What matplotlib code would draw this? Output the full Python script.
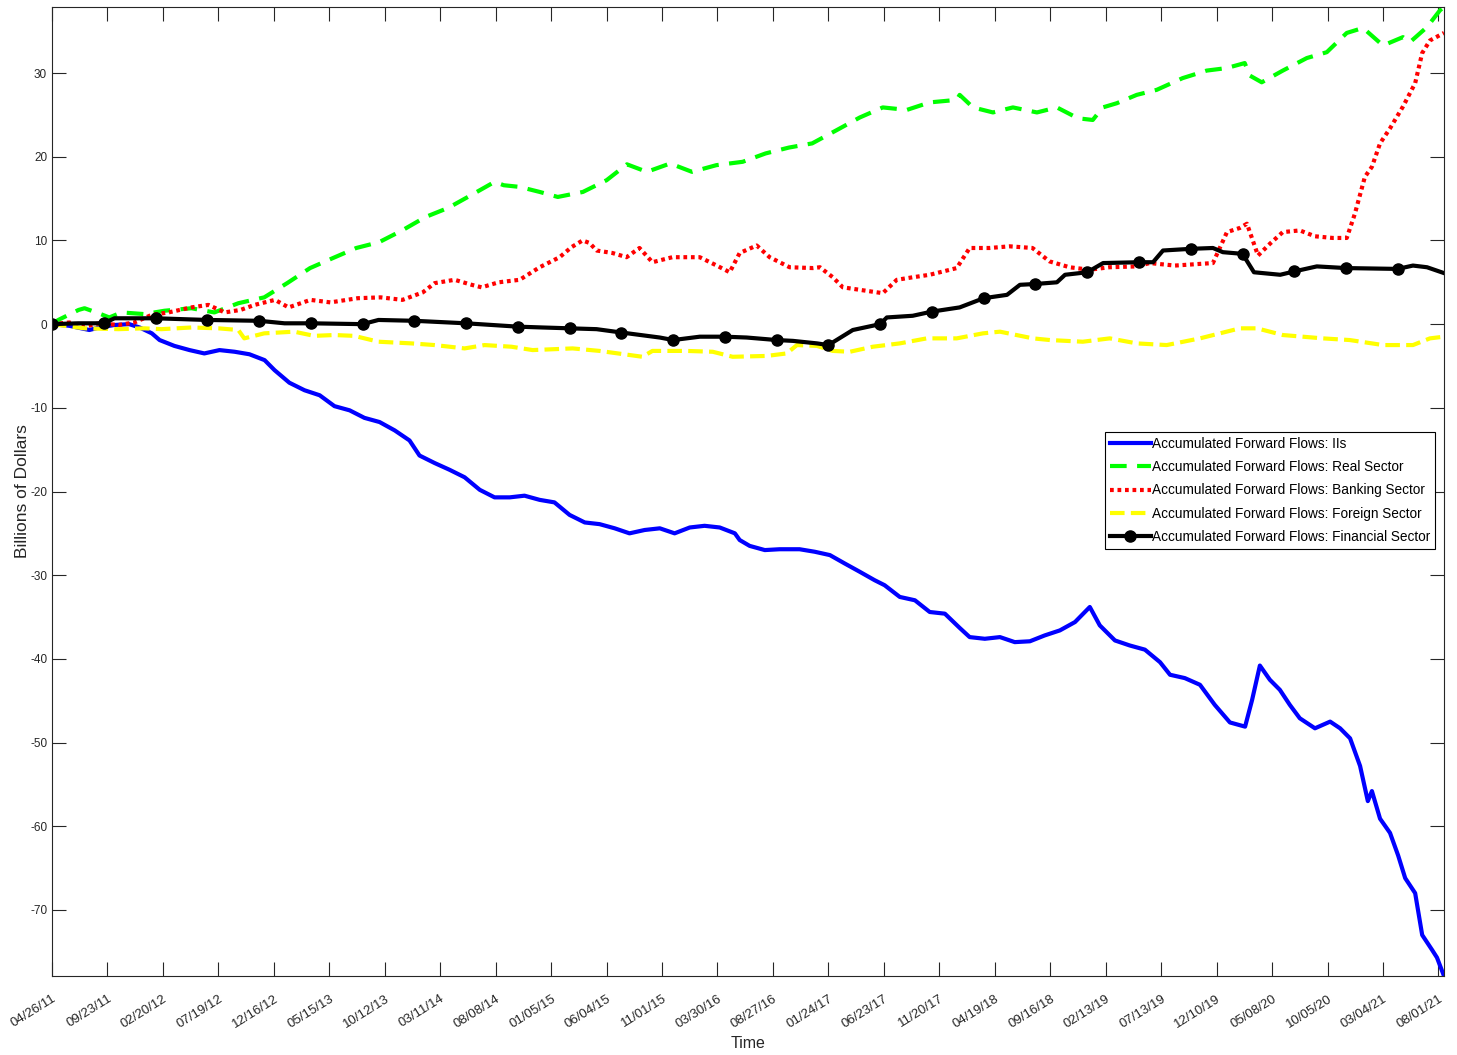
import numpy as np
import pandas as pd
import matplotlib
matplotlib.use("Agg")
import matplotlib.pyplot as plt

plt.rcParams['font.family'] = ['Liberation Sans', 'DejaVu Sans']
plt.rcParams['axes.unicode_minus'] = False

# start of the sample, every series is given as days after this date
start = "2011-04-26"

# x tick labels (every 150 days)
tick_labels = ["04/26/11", "09/23/11", "02/20/12", "07/19/12", "12/16/12", "05/15/13",
               "10/12/13", "03/11/14", "08/08/14", "01/05/15", "06/04/15", "11/01/15",
               "03/30/16", "08/27/16", "01/24/17", "06/23/17", "11/20/17", "04/19/18",
               "09/16/18", "02/13/19", "07/13/19", "12/10/19", "05/08/20", "10/05/20",
               "03/04/21", "08/01/21"]

# IIs (blue)
iis_days = [0, 47, 101, 128, 169, 209, 237, 270, 291, 331, 372, 412, 453, 494, 534, 575,
            602, 642, 683, 724, 764, 805, 845, 886, 927, 967, 994, 1035, 1075, 1116, 1157,
            1197, 1238, 1278, 1319, 1359, 1400, 1441, 1481, 1522, 1562, 1603, 1644, 1684,
            1725, 1765, 1806, 1847, 1860, 1887, 1928, 1968, 2022, 2063, 2104, 2144, 2185,
            2225, 2252, 2293, 2334, 2374, 2415, 2455, 2482, 2523, 2564, 2604, 2645, 2685,
            2726, 2767, 2807, 2834, 2875, 2915, 2956, 2997, 3024, 3064, 3105, 3145, 3186,
            3227, 3246, 3267, 3294, 3321, 3348, 3375, 3416, 3457, 3484, 3511, 3538, 3559,
            3570, 3592, 3619, 3641, 3660, 3687, 3706, 3733, 3746, 3765]
iis_vals = [0.0, -0.2, -0.7, -0.4, -0.1, 0.0, -0.4, -1.1, -1.9, -2.6, -3.1, -3.5, -3.1, -3.3,
            -3.6, -4.3, -5.5, -7.0, -7.9, -8.5, -9.8, -10.3, -11.2, -11.7, -12.7, -13.9,
            -15.7, -16.6, -17.4, -18.3, -19.8, -20.7, -20.7, -20.5, -21.0, -21.3, -22.8,
            -23.7, -23.9, -24.4, -25.0, -24.6, -24.4, -25.0, -24.3, -24.1, -24.3, -25.0,
            -25.8, -26.5, -27.0, -26.9, -26.9, -27.2, -27.6, -28.6, -29.6, -30.6, -31.2,
            -32.6, -33.0, -34.4, -34.6, -36.3, -37.4, -37.6, -37.4, -38.0, -37.9, -37.2,
            -36.6, -35.6, -33.8, -36.0, -37.8, -38.4, -38.9, -40.4, -41.9, -42.3, -43.1,
            -45.5, -47.6, -48.1, -44.9, -40.8, -42.5, -43.7, -45.5, -47.1, -48.3, -47.5,
            -48.3, -49.5, -52.8, -57.0, -55.8, -59.1, -60.8, -63.5, -66.2, -68.0, -73.0,
            -74.8, -75.7, -77.9]

# real sector (green)
real_days = [0, 17, 72, 88, 126, 155, 188, 250, 304, 377, 439, 504, 504, 574, 636, 698,
             760, 823, 885, 947, 1010, 1072, 1133, 1197, 1222, 1265, 1319, 1368, 1436,
             1500, 1555, 1609, 1672, 1731, 1797, 1868, 1930, 1993, 2056, 2123, 2185, 2247,
             2312, 2374, 2447, 2455, 2491, 2545, 2599, 2664, 2718, 2775, 2815, 2842, 2880,
             2934, 2988, 3058, 3123, 3177, 3226, 3240, 3272, 3329, 3394, 3448, 3502, 3546,
             3600, 3654, 3673, 3719, 3754, 3765]
real_vals = [0.0, 0.5, 1.7, 1.9, 1.3, 0.8, 1.4, 1.2, 1.6, 1.9, 1.4, 2.5, 2.5, 3.2, 4.9,
             6.7, 7.9, 9.1, 9.8, 11.2, 12.8, 13.9, 15.4, 17.0, 16.6, 16.4, 15.8, 15.2, 15.8,
             17.2, 19.1, 18.2, 19.2, 18.2, 19.0, 19.4, 20.4, 21.1, 21.6, 23.2, 24.7, 25.9,
             25.6, 26.5, 26.8, 27.4, 25.9, 25.3, 25.9, 25.3, 25.9, 24.6, 24.4, 25.9, 26.4,
             27.4, 28.0, 29.4, 30.3, 30.6, 31.2, 29.7, 28.9, 30.3, 31.8, 32.5, 34.8, 35.4,
             33.3, 34.3, 33.7, 35.5, 37.5, 37.9]

# banking sector (red)
bank_days = [0, 47, 88, 128, 180, 223, 269, 315, 377, 423, 467, 510, 548, 603, 640, 699,
             753, 827, 889, 948, 1003, 1035, 1089, 1135, 1162, 1208, 1265, 1319, 1373, 1405,
             1435, 1454, 1473, 1516, 1554, 1589, 1624, 1678, 1752, 1798, 1833, 1860, 1906,
             1941, 1995, 2058, 2077, 2112, 2139, 2185, 2247, 2285, 2328, 2374, 2447, 2482,
             2536, 2590, 2652, 2698, 2752, 2806, 2860, 2934, 2969, 3037, 3105, 3140, 3178,
             3213, 3232, 3262, 3294, 3329, 3375, 3416, 3464, 3502, 3524, 3551, 3570, 3592,
             3619, 3654, 3687, 3706, 3727, 3765]
bank_vals = [0.0, 0.2, -0.3, 0.1, -0.1, 0.2, 1.1, 1.4, 2.0, 2.3, 1.4, 1.7, 2.3, 2.9, 2.0,
             2.9, 2.6, 3.1, 3.2, 2.9, 3.8, 4.9, 5.3, 4.7, 4.4, 5.0, 5.3, 6.8, 8.0, 9.2, 10.0,
             9.7, 8.8, 8.5, 8.0, 9.1, 7.4, 8.0, 8.0, 7.0, 6.2, 8.5, 9.4, 8.0, 6.8, 6.7, 6.8,
             5.6, 4.4, 4.1, 3.7, 5.3, 5.6, 5.9, 6.7, 9.1, 9.1, 9.3, 9.1, 7.5, 6.8, 6.5, 6.8,
             6.9, 7.3, 7.0, 7.2, 7.3, 11.0, 11.5, 12.0, 8.2, 9.6, 11.0, 11.2, 10.5, 10.3,
             10.3, 13.2, 17.6, 18.8, 21.6, 23.4, 26.0, 28.8, 32.4, 33.9, 34.8]

# foreign sector (yellow)
foreign_days = [0, 88, 180, 250, 296, 377, 450, 504, 520, 574, 655, 709, 763, 817, 883,
                972, 1035, 1116, 1170, 1243, 1300, 1408, 1481, 1597, 1624, 1716, 1787, 1841,
                1933, 1987, 2015, 2069, 2112, 2158, 2220, 2293, 2366, 2447, 2518, 2564,
                2653, 2699, 2788, 2861, 2934, 3015, 3105, 3213, 3259, 3329, 3437, 3510,
                3600, 3681, 3727, 3765]
foreign_vals = [0.0, -0.5, -0.6, -0.5, -0.6, -0.4, -0.5, -0.7, -1.7, -1.1, -0.9, -1.4, -1.3,
                -1.4, -2.1, -2.3, -2.5, -2.9, -2.5, -2.7, -3.1, -2.9, -3.2, -3.9, -3.2,
                -3.2, -3.3, -3.9, -3.8, -3.5, -2.5, -2.6, -3.2, -3.3, -2.7, -2.3, -1.7,
                -1.7, -1.1, -0.9, -1.7, -1.9, -2.1, -1.7, -2.3, -2.5, -1.7, -0.5, -0.5,
                -1.3, -1.7, -1.9, -2.5, -2.5, -1.7, -1.5]

# financial sector (black), markers fall on the days that are multiples of 140
fin_days = [0, 71, 140, 169, 280, 420, 560, 629, 700, 840, 883, 980, 1120, 1260, 1327,
            1400, 1473, 1540, 1644, 1680, 1752, 1820, 1879, 1960, 2004, 2069, 2100, 2166,
            2240, 2258, 2328, 2380, 2455, 2520, 2583, 2618, 2660, 2718, 2740, 2800, 2843,
            2940, 2978, 3005, 3080, 3140, 3167, 3220, 3251, 3322, 3360, 3421, 3500, 3640,
            3681, 3719, 3765]
fin_vals = [0.0, 0.1, 0.1, 0.7, 0.7, 0.5, 0.4, 0.1, 0.1, 0.0, 0.5, 0.4, 0.1, -0.3, -0.4,
            -0.5, -0.6, -1.0, -1.6, -1.9, -1.5, -1.5, -1.6, -1.9, -2.0, -2.3, -2.5, -0.7,
            0.0, 0.8, 1.0, 1.5, 2.0, 3.1, 3.5, 4.7, 4.8, 5.0, 5.9, 6.2, 7.3, 7.4, 7.4, 8.8,
            9.0, 9.1, 8.6, 8.4, 6.2, 5.9, 6.3, 6.9, 6.7, 6.6, 7.0, 6.8, 6.1]

t0 = np.datetime64(start)


def to_dates(days):
    return t0 + np.array(days).astype('timedelta64[D]')


fig = plt.figure(figsize=(14.57, 10.55), dpi=100)
ax = fig.add_axes([52 / 1457, 79 / 1055, 1392 / 1457, 969 / 1055])

lw = 3.0
ax.plot(to_dates(iis_days), iis_vals, color=(0, 0, 1), lw=lw,
        label="Accumulated Forward Flows: IIs")
ax.plot(to_dates(real_days), real_vals, color=(0, 1, 0), lw=lw, dashes=(4, 2.5),
        label="Accumulated Forward Flows: Real Sector")
ax.plot(to_dates(bank_days), bank_vals, color=(1, 0, 0), lw=lw, dashes=(0.9, 0.9),
        label="Accumulated Forward Flows: Banking Sector")
ax.plot(to_dates(foreign_days), foreign_vals, color=(1, 1, 0), lw=lw, dashes=(3.5, 1.5),
        label="Accumulated Forward Flows: Foreign Sector")
marks = [i for i, d in enumerate(fin_days) if d % 140 == 0]
ax.plot(to_dates(fin_days), fin_vals, color='black', lw=lw, marker='o', markersize=8,
        markevery=marks, label="Accumulated Forward Flows: Financial Sector")

# axis limits tight to the data, like matlab
ax.set_xlim(to_dates([0])[0], to_dates([iis_days[-1]])[0])
ax.set_ylim(min(iis_vals), max(real_vals))

tick_pos = pd.to_datetime(tick_labels, format="%m/%d/%y").values
ax.set_xticks(tick_pos)
ax.set_xticklabels(tick_labels, rotation=32, ha='right', rotation_mode='anchor')
ax.set_yticks(np.arange(-70, 31, 10))

grey = (0.15, 0.15, 0.15)
ax.tick_params(direction='in', length=10, width=0.8, top=True, right=True,
               labelsize=8.5, colors=grey)
ax.tick_params(axis='x', labelsize=9.5, pad=12)
for s in ax.spines.values():
    s.set_color(grey)
    s.set_linewidth(0.8)

ax.set_xlabel("Time", fontsize=11.5, color=grey, labelpad=4)
ax.set_ylabel("Billions of Dollars", fontsize=12.5, color=grey, labelpad=0)

leg = ax.legend(loc='upper left', bbox_to_anchor=((1105 - 52) / 1392, (976 - 432) / 969),
                fontsize=9.8, fancybox=False, framealpha=1, edgecolor='black',
                handlelength=3.0, borderpad=0.35, labelspacing=0.68, handletextpad=0.1,
                borderaxespad=0)
leg.get_frame().set_linewidth(0.8)

fig.savefig("out.png", dpi=100)
